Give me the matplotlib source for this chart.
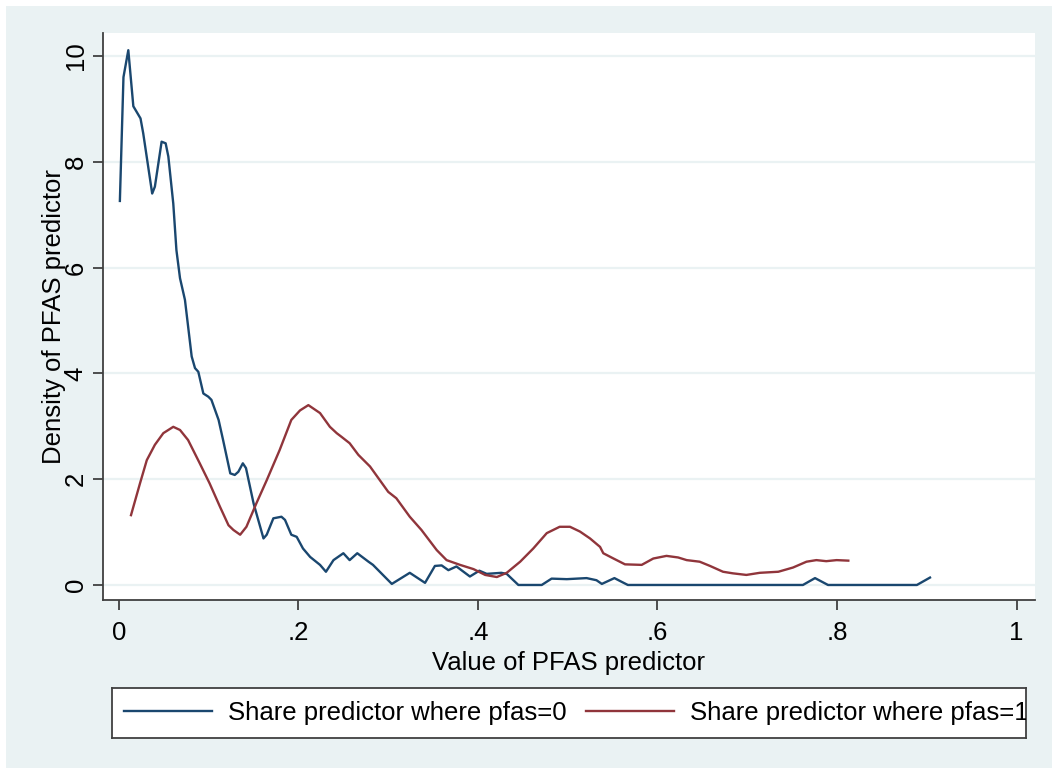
import matplotlib
matplotlib.use('Agg')

import matplotlib.pyplot as plt
from matplotlib.lines import Line2D
from matplotlib.patches import Rectangle

# density estimates
x_pfas0 = [0.001, 0.005, 0.0104, 0.016, 0.024, 0.027, 0.037, 0.040, 0.0475, 0.052, 0.055,
           0.0605, 0.064, 0.068, 0.0735, 0.081, 0.0847, 0.0884, 0.094, 0.0995, 0.103, 0.111,
           0.116, 0.124, 0.129, 0.133, 0.138, 0.1415, 0.150, 0.161, 0.1646, 0.172, 0.181,
           0.185, 0.192, 0.198, 0.205, 0.213, 0.224, 0.2306, 0.239, 0.250, 0.257, 0.2655,
           0.278, 0.283, 0.304, 0.324, 0.341, 0.352, 0.3595, 0.367, 0.376, 0.391, 0.4015,
           0.4097, 0.426, 0.432, 0.445, 0.471, 0.482, 0.499, 0.521, 0.532, 0.538, 0.552,
           0.560, 0.567, 0.762, 0.7755, 0.790, 0.889, 0.9036]
y_pfas0 = [7.26, 9.6, 10.11, 9.05, 8.82, 8.54, 7.40, 7.53, 8.38, 8.35, 8.10,
           7.21, 6.33, 5.80, 5.39, 4.32, 4.10, 4.03, 3.62, 3.56, 3.50, 3.12,
           2.74, 2.11, 2.08, 2.14, 2.30, 2.21, 1.54, 0.88, 0.95, 1.26, 1.29,
           1.23, 0.95, 0.91, 0.69, 0.53, 0.38, 0.25, 0.47, 0.60, 0.47, 0.60,
           0.44, 0.38, 0.02, 0.23, 0.04, 0.36, 0.37, 0.28, 0.35, 0.16, 0.27,
           0.21, 0.23, 0.21, 0.0, 0.0, 0.12, 0.11, 0.13, 0.09, 0.02, 0.13,
           0.06, 0.0, 0.0, 0.13, 0.0, 0.0, 0.14]

x_pfas1 = [0.0134, 0.0234, 0.031, 0.040, 0.0494, 0.0605, 0.068, 0.077, 0.090, 0.101,
           0.1125, 0.122, 0.1275, 0.135, 0.142, 0.153, 0.1646, 0.179, 0.192, 0.2017,
           0.211, 0.224, 0.235, 0.2426, 0.248, 0.257, 0.2667, 0.2797, 0.300, 0.309,
           0.324, 0.337, 0.354, 0.365, 0.380, 0.395, 0.408, 0.421, 0.432, 0.447,
           0.4616, 0.4766, 0.491, 0.5025, 0.5136, 0.5248, 0.536, 0.5396, 0.551, 0.5638,
           0.5824, 0.5953, 0.610, 0.623, 0.6325, 0.647, 0.6585, 0.673, 0.684, 0.699,
           0.714, 0.7346, 0.751, 0.766, 0.777, 0.788, 0.7996, 0.8126]
y_pfas1 = [1.32, 1.92, 2.36, 2.65, 2.87, 2.99, 2.93, 2.74, 2.30, 1.92,
           1.48, 1.13, 1.04, 0.95, 1.10, 1.54, 1.98, 2.55, 3.12, 3.30,
           3.40, 3.25, 2.99, 2.87, 2.80, 2.68, 2.46, 2.24, 1.76, 1.64,
           1.29, 1.04, 0.66, 0.47, 0.38, 0.30, 0.19, 0.15, 0.23, 0.44,
           0.69, 0.98, 1.10, 1.10, 1.01, 0.88, 0.72, 0.60, 0.50, 0.39,
           0.38, 0.50, 0.55, 0.52, 0.47, 0.44, 0.36, 0.25, 0.22, 0.19,
           0.23, 0.25, 0.33, 0.44, 0.47, 0.45, 0.47, 0.46]

x_ticks = [0, 0.2, 0.4, 0.6, 0.8, 1.0]
x_ticklabels = ['0', '.2', '.4', '.6', '.8', '1']
y_ticks = [0, 2, 4, 6, 8, 10]
labels = ['Share predictor where pfas=0', 'Share predictor where pfas=1']

# Stata s2color-ish palette
bg = '#EAF2F3'
navy = '#1A476F'
maroon = '#90353B'
axcol = '#404040'

plt.rcParams['font.family'] = ['Liberation Sans', 'DejaVu Sans']
fs = 18.5

W, H = 1052, 768
fig = plt.figure(figsize=(W / 100, H / 100), dpi=100, facecolor=bg)
# thin white margin on top and left like the screenshot
fig.patches.append(Rectangle((0, 1 - 6 / H), 1, 6 / H, transform=fig.transFigure,
                             facecolor='white', edgecolor='none', zorder=-1))
fig.patches.append(Rectangle((0, 0), 6 / W, 1, transform=fig.transFigure,
                             facecolor='white', edgecolor='none', zorder=-1))

ax = fig.add_axes([103 / W, 1 - 600 / H, (1035 - 103) / W, (600 - 33) / H])
ax.set_facecolor('white')

ax.plot(x_pfas0, y_pfas0, color=navy, lw=1.7, zorder=3)
ax.plot(x_pfas1, y_pfas1, color=maroon, lw=1.7, zorder=3)

ax.set_xlim(-0.0178, 1.0206)
ax.set_ylim(-0.284, 10.435)
ax.set_xticks(x_ticks)
ax.set_xticklabels(x_ticklabels)
ax.set_yticks(y_ticks)
ax.set_yticklabels([str(t) for t in y_ticks], rotation=90, va='center')
ax.yaxis.grid(True, color=bg, lw=1.6, zorder=0)
ax.set_axisbelow(True)

for s in ['top', 'right']:
    ax.spines[s].set_visible(False)
for s in ['left', 'bottom']:
    ax.spines[s].set_color(axcol)
    ax.spines[s].set_linewidth(1.3)
ax.tick_params(axis='both', colors=axcol, length=7, width=1.3, labelsize=fs,
               labelcolor='black')
ax.tick_params(axis='x', pad=8)
ax.tick_params(axis='y', pad=4)

ax.set_xlabel('Value of PFAS predictor', fontsize=fs)
ax.xaxis.set_label_coords(0.5, -0.09)
ax.set_ylabel('Density of PFAS predictor', fontsize=fs)
# Stata lets the axis title sit on top of the tick labels
ax.yaxis.set_label_coords(-0.040, 0.5)

# legend box at the bottom; the second label runs past the frame and is cut off
lax = fig.add_axes([112 / W, 1 - 738 / H, (1026 - 112) / W, 50 / H])
lax.set_facecolor('white')
lax.set_xticks([])
lax.set_yticks([])
for s in lax.spines.values():
    s.set_color(axcol)
    s.set_linewidth(1.3)
handles = [Line2D([], [], color=navy, lw=1.7), Line2D([], [], color=maroon, lw=1.7)]
leg = lax.legend(handles, labels, loc='center left', bbox_to_anchor=(0, 0.5),
                 ncol=2, frameon=False, fontsize=fs, handlelength=3.45,
                 handletextpad=0.6, columnspacing=0.75, borderpad=0.45,
                 borderaxespad=0)
for t in leg.get_texts():
    t.set_clip_box(lax.bbox)
    t.set_clip_on(True)

fig.savefig('out.png', dpi=100, facecolor=bg)
